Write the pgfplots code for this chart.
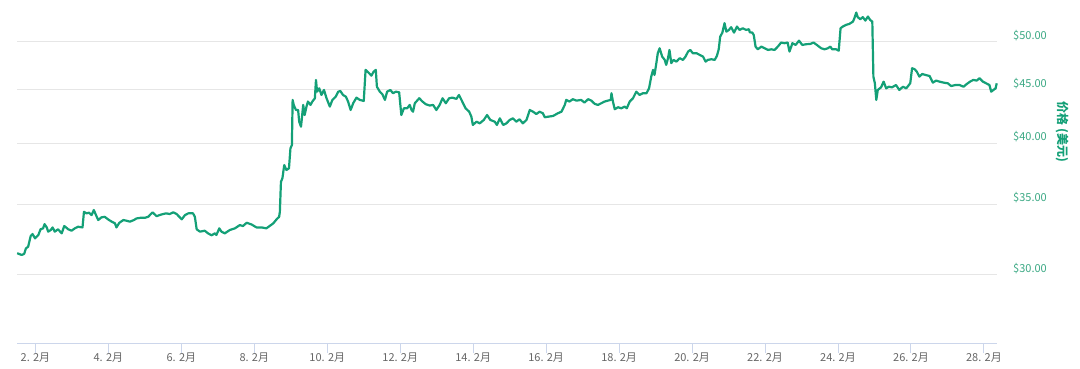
\documentclass[border=0pt]{standalone}
\usepackage{pgfplots}
\pgfplotsset{compat=1.18}
\usepackage{pgfplotstable}
\usepackage{fontspec}
\setmainfont{Noto Sans CJK SC}
\definecolor{linegreen}{HTML}{14A077}
\definecolor{labgreen}{HTML}{3AA883}
\definecolor{gridgray}{HTML}{E6E6E6}
\definecolor{axisblue}{HTML}{CCD6EB}
\definecolor{ticktext}{HTML}{666666}

\pgfplotstableread{
d v
1.50 31.42
1.62 31.30
1.69 31.37
1.74 31.76
1.80 31.87
1.87 32.63
1.92 32.77
1.99 32.46
2.08 32.70
2.14 33.11
2.21 33.18
2.25 33.49
2.31 33.25
2.35 32.94
2.42 33.06
2.47 33.25
2.53 32.94
2.62 33.11
2.72 32.82
2.79 33.35
2.90 33.11
2.99 33.01
3.08 33.18
3.17 33.30
3.29 33.25
3.33 34.41
3.40 34.29
3.47 34.34
3.54 34.16
3.60 34.54
3.66 34.16
3.72 33.79
3.81 33.99
3.90 34.03
3.99 33.84
4.09 33.67
4.18 33.55
4.22 33.25
4.30 33.59
4.41 33.79
4.50 33.74
4.59 33.67
4.70 33.79
4.77 33.91
4.88 33.96
5.00 33.96
5.09 34.03
5.21 34.37
5.32 34.08
5.46 34.21
5.58 34.29
5.68 34.24
5.78 34.37
5.87 34.24
6.01 33.84
6.10 34.16
6.19 34.29
6.32 34.29
6.37 34.03
6.42 33.11
6.51 32.94
6.64 33.01
6.73 32.82
6.83 32.68
6.92 32.82
6.96 32.70
7.04 33.18
7.10 32.94
7.19 32.82
7.33 33.06
7.47 33.18
7.60 33.42
7.69 33.35
7.79 33.59
7.92 33.47
8.06 33.25
8.20 33.25
8.33 33.18
8.42 33.35
8.52 33.55
8.61 33.84
8.68 34.03
8.70 34.41
8.73 36.75
8.77 37.03
8.82 38.12
8.88 37.71
8.95 37.85
8.99 39.54
9.03 39.83
9.05 43.97
9.08 43.49
9.14 43.01
9.20 43.01
9.23 41.92
9.28 41.46
9.34 43.49
9.38 42.54
9.43 43.33
9.47 43.81
9.54 43.49
9.59 43.81
9.66 44.13
9.69 45.94
9.72 44.77
9.78 45.10
9.84 44.45
9.91 44.94
9.98 44.13
10.07 43.33
10.14 43.97
10.23 44.28
10.30 44.77
10.36 44.84
10.43 44.45
10.51 44.28
10.57 43.81
10.64 43.01
10.71 43.65
10.80 44.19
10.89 43.97
11.00 43.87
11.05 46.96
11.12 46.72
11.21 46.37
11.27 46.78
11.33 46.96
11.36 45.26
11.44 44.77
11.51 44.52
11.58 43.97
11.64 44.77
11.73 44.94
11.80 44.62
11.88 44.77
11.97 44.71
12.03 42.54
12.10 43.17
12.19 43.17
12.26 43.49
12.31 43.01
12.35 42.85
12.40 43.65
12.52 44.13
12.61 43.81
12.70 43.56
12.81 43.43
12.90 43.49
12.99 43.01
13.08 43.49
13.16 44.13
13.25 43.65
13.34 44.13
13.43 44.19
13.54 44.07
13.61 44.45
13.70 43.81
13.79 43.17
13.89 42.85
13.95 42.38
13.99 41.62
14.09 41.92
14.18 41.77
14.29 42.08
14.38 42.54
14.47 42.08
14.59 41.92
14.65 41.62
14.73 42.23
14.82 41.62
14.91 41.77
15.00 42.08
15.09 42.23
15.18 41.92
15.27 42.14
15.36 41.77
15.46 42.08
15.55 43.01
15.64 42.85
15.73 42.63
15.82 42.85
15.91 42.70
15.96 42.33
16.05 42.38
16.19 42.45
16.32 42.70
16.42 42.85
16.51 43.49
16.55 43.97
16.64 43.81
16.73 44.04
16.83 43.90
16.96 43.97
17.05 43.71
17.15 44.04
17.24 43.90
17.33 43.59
17.42 43.49
17.51 43.65
17.60 43.81
17.69 43.90
17.77 43.97
17.79 44.62
17.83 43.81
17.88 43.08
17.97 43.27
18.06 43.17
18.15 43.33
18.21 43.17
18.29 43.81
18.38 44.13
18.47 44.77
18.56 44.45
18.65 44.62
18.75 44.62
18.82 45.10
18.88 46.27
18.93 46.96
18.97 46.44
19.02 47.66
19.06 48.71
19.11 49.24
19.18 48.35
19.25 48.00
19.29 47.48
19.34 48.18
19.38 49.06
19.43 47.66
19.49 48.00
19.57 47.82
19.66 48.18
19.75 48.00
19.82 48.35
19.89 48.88
19.95 49.06
20.02 48.71
20.12 48.71
20.21 48.53
20.30 48.35
20.37 47.82
20.43 48.00
20.53 48.07
20.62 48.00
20.68 48.42
20.73 49.13
20.77 50.51
20.83 50.96
20.89 52.03
20.94 51.07
21.01 51.26
21.07 51.57
21.15 50.96
21.23 51.64
21.30 51.26
21.39 51.45
21.48 51.26
21.56 51.34
21.58 51.00
21.65 50.96
21.69 50.70
21.74 49.42
21.80 49.13
21.90 49.42
21.99 49.24
22.08 49.06
22.17 49.13
22.26 49.06
22.35 49.42
22.44 49.86
22.53 49.79
22.62 49.86
22.67 48.88
22.75 49.79
22.84 49.60
22.93 50.07
23.02 49.60
23.13 49.68
23.24 49.71
23.33 49.86
23.42 49.60
23.54 49.24
23.63 49.13
23.72 49.24
23.79 49.42
23.84 49.13
23.95 49.13
24.02 48.98
24.07 51.45
24.13 51.64
24.22 51.83
24.31 51.94
24.41 52.21
24.45 52.60
24.50 53.25
24.54 52.72
24.61 52.48
24.68 52.72
24.75 52.32
24.82 52.79
24.88 52.40
24.94 52.21
24.97 46.27
25.01 45.60
25.05 43.97
25.09 44.94
25.18 45.20
25.25 45.77
25.32 45.10
25.39 45.26
25.48 45.20
25.59 45.43
25.68 44.94
25.78 45.26
25.87 45.10
25.98 45.60
26.03 47.13
26.10 47.03
26.16 46.78
26.23 46.27
26.31 46.54
26.40 46.44
26.51 46.34
26.60 45.67
26.69 45.87
26.78 45.77
26.89 45.67
27.01 45.60
27.10 45.33
27.22 45.43
27.33 45.43
27.44 45.26
27.53 45.53
27.62 45.77
27.71 45.94
27.80 45.87
27.88 46.11
27.97 45.77
28.06 45.60
28.15 45.43
28.20 44.77
28.26 44.94
28.32 45.10
28.35 45.60
}\pricedata

\begin{document}
\begin{tikzpicture}[x=1pt,y=1pt]
\useasboundingbox (0,0) rectangle (1080,369);
\begin{axis}[
  at={(17.2pt,25.7pt)}, anchor=south west,
  width=979.5pt, height=343.3pt, scale only axis,
  ymode=log,
  xmin=1.5, xmax=28.35,
  ymin=25.79, ymax=54.74,
  axis x line*=bottom, axis y line*=right,
  x axis line style={draw=axisblue, line width=1pt},
  y axis line style={draw=none},
  xtick={2,4,...,28},
  xticklabels={2. 2月,4. 2月,6. 2月,8. 2月,10. 2月,12. 2月,14. 2月,16. 2月,18. 2月,20. 2月,22. 2月,24. 2月,26. 2月,28. 2月},
  ytick={30,35,40,45,50},
  yticklabels={\$30.00,\$35.00,\$40.00,\$45.00,\$50.00},
  minor ytick={}, minor xtick={},
  x tick style={draw=axisblue, line width=1pt},
  y tick style={draw=none},
  tick align=outside,
  major tick length=10pt,
  xticklabel style={font=\fontsize{11}{13}\selectfont, text=ticktext, anchor=base, yshift=-8pt},
  yticklabel style={font=\fontsize{11}{13}\selectfont, text=labgreen, anchor=west, xshift=3pt, yshift=6pt},
  ymajorgrids,
  major grid style={draw=gridgray, line width=1pt},
  ylabel={价格 (美元)},
  every axis y label/.style={at={(axis description cs:1.0667,0.6155)}, anchor=center, rotate=-90, font=\fontsize{12}{14}\selectfont\bfseries, text=linegreen},
  clip=false,
]
\addplot[color=linegreen, line width=2.2pt, line join=round] table[x=d, y=v] {\pricedata};
\end{axis}
\end{tikzpicture}
\end{document}
